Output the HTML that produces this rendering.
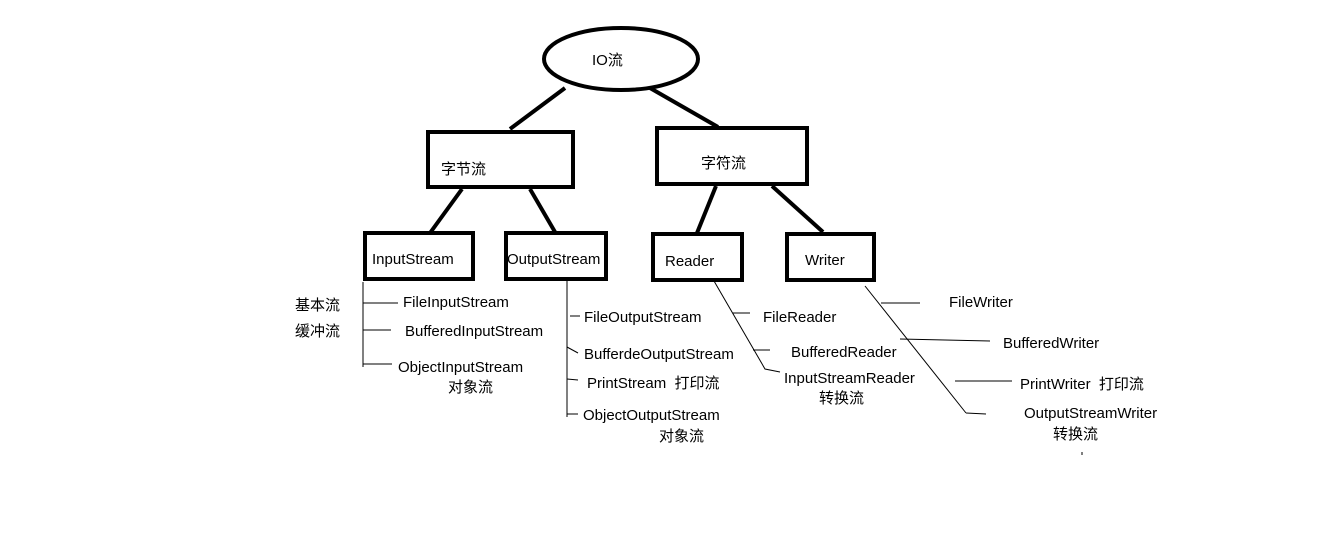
<!DOCTYPE html>
<html><head><meta charset="utf-8"><style>
html,body{margin:0;padding:0;background:#fff;}
svg text{font-family:"Liberation Sans","Noto Sans CJK SC",sans-serif;font-size:15px;fill:#000;}
</style></head><body>
<svg width="1342" height="533" viewBox="0 0 1342 533" xmlns="http://www.w3.org/2000/svg">
<rect width="1342" height="533" fill="#fff"/>
<g fill="none" stroke="#000" stroke-width="4">
<ellipse cx="621" cy="59" rx="77" ry="31"/>
<line x1="565" y1="88" x2="510" y2="129"/>
<line x1="650" y1="88" x2="718" y2="127"/>
<rect x="428" y="132" width="145" height="55"/>
<rect x="657" y="128" width="150" height="56"/>
<line x1="462" y1="189" x2="430" y2="233"/>
<line x1="530" y1="189" x2="555" y2="232"/>
<line x1="716" y1="186" x2="697" y2="233"/>
<line x1="772" y1="186" x2="823" y2="232"/>
<rect x="365" y="233" width="108" height="46"/>
<rect x="506" y="233" width="100" height="46"/>
<rect x="653" y="234" width="89" height="46"/>
<rect x="787" y="234" width="87" height="46"/>
</g>
<g fill="none" stroke="#000" stroke-width="1">
<line x1="363" y1="282" x2="363" y2="367"/>
<line x1="363" y1="303" x2="398" y2="303"/>
<line x1="363" y1="330" x2="391" y2="330"/>
<line x1="363" y1="364" x2="392" y2="364"/>
<line x1="567" y1="281" x2="567" y2="417"/>
<line x1="570" y1="316" x2="580" y2="316"/>
<line x1="567" y1="347" x2="578" y2="353"/>
<line x1="567" y1="379" x2="578" y2="380"/>
<line x1="567" y1="414" x2="578" y2="414"/>
<polyline points="714,281 765,369 780,372"/>
<line x1="733" y1="313" x2="750" y2="313"/>
<line x1="753" y1="350" x2="770" y2="350"/>
<polyline points="865,286 966,413"/>
<line x1="966" y1="413" x2="986" y2="414"/>
<line x1="881" y1="303" x2="920" y2="303"/>
<line x1="900" y1="339" x2="990" y2="341"/>
<line x1="955" y1="381" x2="1012" y2="381"/>
<line x1="1082" y1="452" x2="1082" y2="455"/>
</g>
<text x="592" y="65">IO流</text>
<text x="441" y="174">字节流</text>
<text x="701" y="168">字符流</text>
<text x="372" y="264">InputStream</text>
<text x="507" y="264">OutputStream</text>
<text x="665" y="266">Reader</text>
<text x="805" y="265">Writer</text>
<text x="295" y="310">基本流</text>
<text x="295" y="336">缓冲流</text>
<text x="403" y="307">FileInputStream</text>
<text x="405" y="336">BufferedInputStream</text>
<text x="398" y="372">ObjectInputStream</text>
<text x="448" y="392">对象流</text>
<text x="584" y="322">FileOutputStream</text>
<text x="584" y="359">BufferdeOutputStream</text>
<text x="587" y="388">PrintStream&#160;&#160;打印流</text>
<text x="583" y="420">ObjectOutputStream</text>
<text x="659" y="441">对象流</text>
<text x="763" y="322">FileReader</text>
<text x="791" y="357">BufferedReader</text>
<text x="784" y="383">InputStreamReader</text>
<text x="819" y="403">转换流</text>
<text x="949" y="307">FileWriter</text>
<text x="1003" y="348">BufferedWriter</text>
<text x="1020" y="389">PrintWriter&#160;&#160;打印流</text>
<text x="1024" y="418">OutputStreamWriter</text>
<text x="1053" y="439">转换流</text>
</svg>
</body></html>
